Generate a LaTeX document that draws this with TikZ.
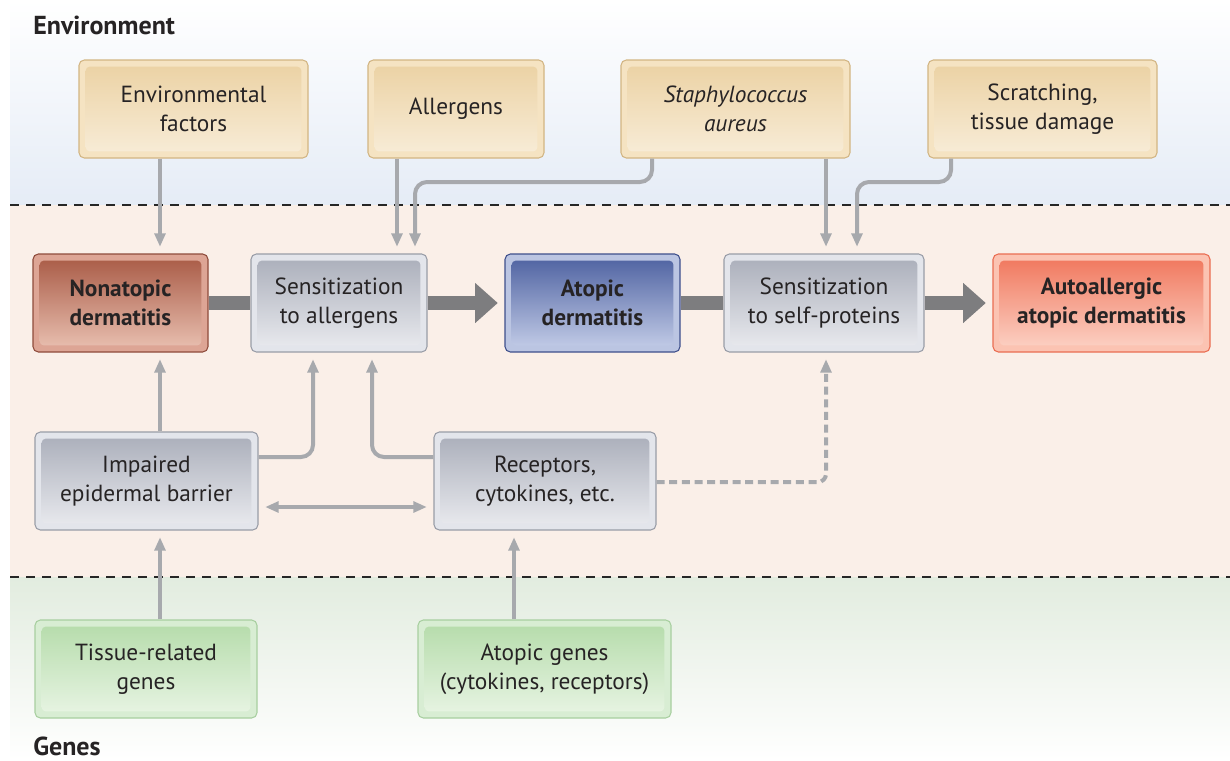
\documentclass[tikz,border=0pt]{standalone}
\usepackage{fontspec}
\setmainfont{PT Sans}
\usetikzlibrary{arrows.meta}
\definecolor{txt}{HTML}{262324}
\definecolor{envbg}{HTML}{E5ECF6}
\definecolor{midbg}{HTML}{FAEFE8}
\definecolor{genbg}{HTML}{E2ECDF}
\definecolor{envout}{HTML}{F5E3C2}
\definecolor{envbd}{HTML}{D2B583}
\definecolor{envtop}{HTML}{EBD1A2}
\definecolor{envbot}{HTML}{F8EDD9}
\definecolor{grout}{HTML}{E3E5EB}
\definecolor{grbd}{HTML}{999DA7}
\definecolor{grtop}{HTML}{A9ADB9}
\definecolor{grbot}{HTML}{EBECF0}
\definecolor{nonout}{HTML}{DDA595}
\definecolor{nonbd}{HTML}{8E4B3B}
\definecolor{nontop}{HTML}{A75843}
\definecolor{nonbot}{HTML}{EBC3B4}
\definecolor{atout}{HTML}{BBC5E2}
\definecolor{atbd}{HTML}{3E4F8B}
\definecolor{attop}{HTML}{4B5F9F}
\definecolor{atbot}{HTML}{C7D0EA}
\definecolor{auout}{HTML}{FBC3B2}
\definecolor{aubd}{HTML}{EA6D52}
\definecolor{autop}{HTML}{F0745A}
\definecolor{aubot}{HTML}{FCD5C8}
\definecolor{gnout}{HTML}{D8EDD3}
\definecolor{gnbd}{HTML}{A8CFA0}
\definecolor{gntop}{HTML}{B4DBA9}
\definecolor{gnbot}{HTML}{E9F5E5}
\definecolor{conn}{HTML}{A7A9AD}
\definecolor{bigc}{HTML}{7D7D7F}
\tikzset{
  x=0.75pt, y=-0.75pt,
  box/.style n args={4}{draw=#2, fill=#1, rounded corners=4pt, line width=0.8pt,
    inner sep=0pt, align=center, text=txt, font=\fontsize{17.5}{22}\selectfont,
    path picture={\shade[top color=#3, bottom color=#4, rounded corners=3pt]
      ([shift={(5pt,-5pt)}]path picture bounding box.north west) rectangle
      ([shift={(-5pt,5pt)}]path picture bounding box.south east);}},
  envbox/.style={box={envout}{envbd}{envtop}{envbot}},
  graybox/.style={box={grout}{grbd}{grtop}{grbot}},
  nonbox/.style={box={nonout}{nonbd}{nontop}{nonbot}, font=\fontsize{17.5}{22}\selectfont\bfseries},
  atbox/.style={box={atout}{atbd}{attop}{atbot}, font=\fontsize{17.5}{22}\selectfont\bfseries},
  aubox/.style={box={auout}{aubd}{autop}{aubot}, font=\fontsize{17.5}{22}\selectfont\bfseries},
  genbox/.style={box={gnout}{gnbd}{gntop}{gnbot}},
  thin/.style={draw=conn, line width=3pt, rounded corners=9pt, -{Triangle[width=8pt,length=10pt]}, shorten >=5pt},
  big/.style={draw=bigc, line width=10.5pt},
  bigarr/.style={big, -{Triangle[width=29pt,length=17pt]}, shorten >=5pt},
  sep/.style={draw=black!85, line width=1.1pt, dash pattern=on 7pt off 5pt},
  header/.style={font=\fontsize{19.5}{22}\selectfont\bfseries, text=txt, anchor=west, inner sep=0pt}
}
\newcommand\bx[7]{\node[#6, minimum width={(#4-#2)*0.75pt}, minimum height={(#5-#3)*0.75pt}] (#1) at ({(#2+#4)/2},{(#3+#5)/2}) {#7};}
\begin{document}
\begin{tikzpicture}
\useasboundingbox (0,0) rectangle (1230,760);
% backgrounds
\shade[top color=white, bottom color=envbg] (10,0) rectangle (1230,205);
\fill[midbg] (10,205) rectangle (1230,577);
\shade[top color=genbg, bottom color=white] (10,577) rectangle (1230,760);
\coordinate (d1a) at (10,205); \coordinate (d1b) at (1230,205);
\coordinate (d2a) at (10,577); \coordinate (d2b) at (1230,577);
\draw[sep] (d1a) -- (d1b);
\draw[sep] (d2a) -- (d2b);
\node[header] (envh) at (33,25) {Environment};
\node[header] (genh) at (33,746) {Genes};
% boxes
\bx{envf}{79}{60}{308}{158}{envbox}{Environmental\\factors}
\bx{allerg}{368}{60}{544}{158}{envbox}{Allergens}
\bx{staph}{621}{60}{850}{158}{envbox}{\itshape Staphylococcus\\\itshape aureus}
\bx{scr}{928}{60}{1157}{158}{envbox}{Scratching,\\tissue damage}
\bx{nonat}{33}{254}{208}{352}{nonbox}{Nonatopic\\dermatitis}
\bx{sensa}{251}{254}{427}{352}{graybox}{Sensitization\\to allergens}
\bx{atop}{505}{254}{680}{352}{atbox}{Atopic\\dermatitis}
\bx{senss}{724}{254}{924}{352}{graybox}{Sensitization\\to self-proteins}
\bx{auto}{993}{254}{1210}{352}{aubox}{Autoallergic\\atopic dermatitis}
\bx{imp}{35}{432}{258}{530}{graybox}{Impaired\\epidermal barrier}
\bx{rec}{434}{432}{656}{530}{graybox}{Receptors,\\cytokines, etc.}
\bx{tis}{35}{620}{257}{718}{genbox}{Tissue-related\\genes}
\bx{agen}{418}{620}{671}{718}{genbox}{Atopic genes\\(cytokines, receptors)}
% helper coordinates
\coordinate (c160) at (160,0);
\coordinate (c397) at (397,0);
\coordinate (c415) at (415,0);
\coordinate (c652) at (652,0);
\coordinate (c826) at (826,0);
\coordinate (c857) at (857,0);
\coordinate (c951) at (951,0);
\coordinate (c313) at (313,0);
\coordinate (c372) at (372,0);
\coordinate (c514) at (514,0);
\coordinate (h182) at (0,182);
\coordinate (h457) at (0,457);
\coordinate (h482) at (0,482);
\coordinate (h507) at (0,507);
% big arrows
\draw[big] (nonat.east) -- (sensa.west);
\draw[bigarr] (sensa.east) -- (atop.west);
\draw[big] (atop.east) -- (senss.west);
\draw[bigarr] (senss.east) -- (auto.west);
% thin connectors
\draw[thin] (envf.south -| c160) -- (nonat.north -| c160);
\draw[thin] (allerg.south -| c397) -- (sensa.north -| c397);
\draw[thin] (staph.south -| c652) -- (c652 |- h182) -- (c415 |- h182) -- (sensa.north -| c415);
\draw[thin] (staph.south -| c826) -- (senss.north -| c826);
\draw[thin] (scr.south -| c951) -- (c951 |- h182) -- (c857 |- h182) -- (senss.north -| c857);
\draw[thin] (imp.north -| c160) -- (nonat.south -| c160);
\draw[thin] (imp.east |- h457) -- (c313 |- h457) -- (sensa.south -| c313);
\draw[thin] (rec.west |- h457) -- (c372 |- h457) -- (sensa.south -| c372);
\draw[thin, dash pattern=on 6pt off 3.5pt, rounded corners=6pt] (rec.east |- h482) -- (c826 |- h482) -- (senss.south -| c826);
\draw[thin, {Triangle[width=8pt,length=10pt]}-{Triangle[width=8pt,length=10pt]}, shorten <=5pt] (imp.east |- h507) -- (rec.west |- h507);
\draw[thin] (tis.north -| c160) -- (imp.south -| c160);
\draw[thin] (agen.north -| c514) -- (rec.south -| c514);
\end{tikzpicture}
\end{document}
